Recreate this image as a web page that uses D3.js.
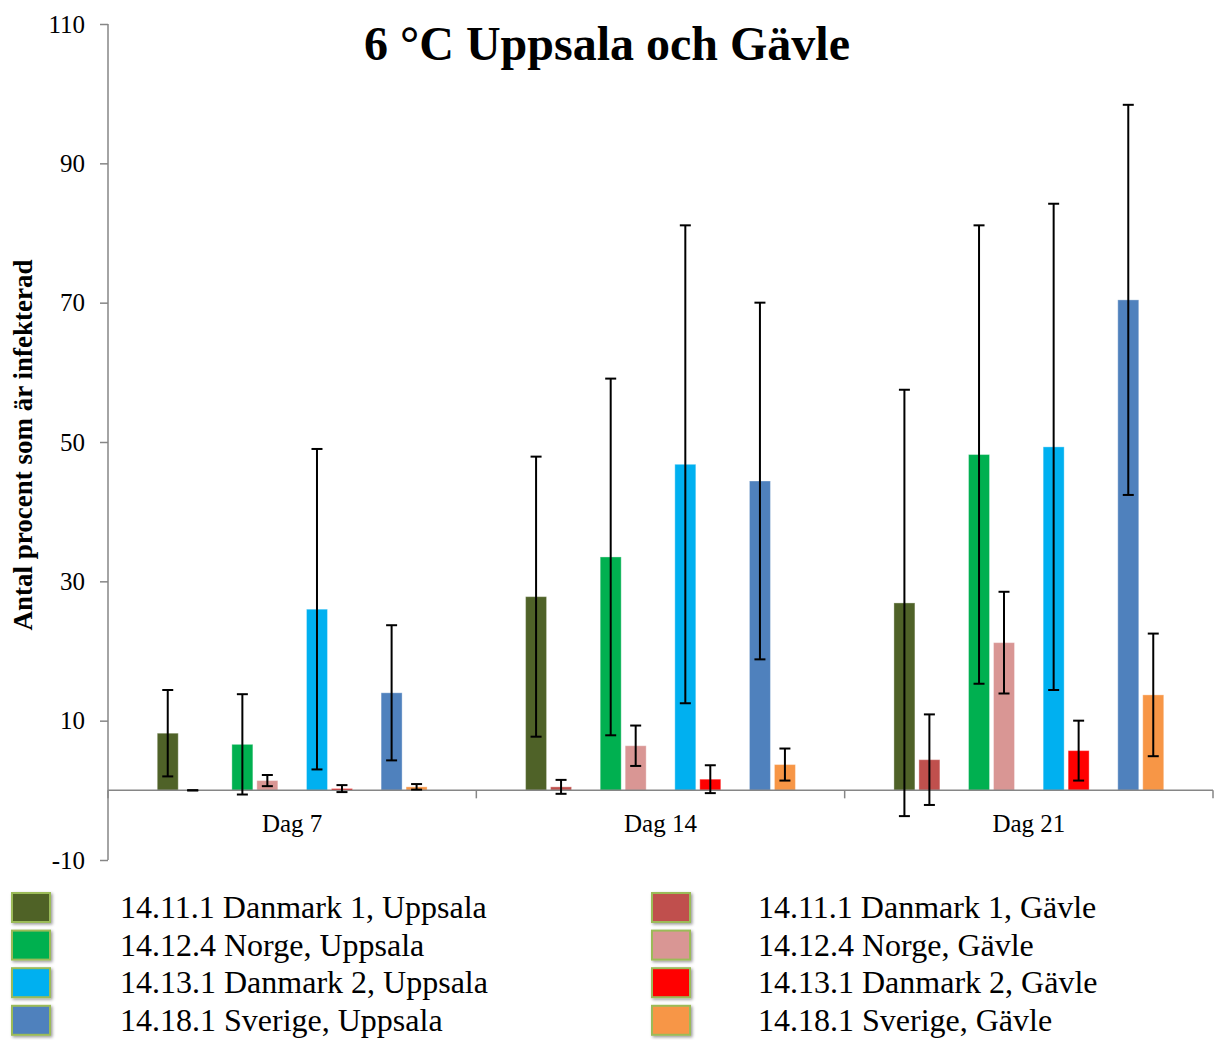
<!DOCTYPE html>
<html lang="sv">
<head>
    <meta charset="utf-8">
    <script src="https://d3js.org/d3.v7.min.js"></script>
    <style>
        html, body {
            margin: 0;
            padding: 0;
            background: white;
            overflow: hidden;
        }

        svg {
            display: block;
            font-family: "Liberation Serif", "DejaVu Serif", serif;
        }

        .axis path, .axis line {
            stroke: #868686;
            stroke-width: 1.5;
        }

        .axis text {
            fill: black;
            font-size: 25px;
            font-family: "Liberation Serif", serif;
        }
    </style>
</head>
<body>
<svg width="1219" height="1040"></svg>
<script>
    // data
    var days = ["Dag 7", "Dag 14", "Dag 21"];
    var isolates = ["14.11.1 Danmark 1", "14.12.4 Norge", "14.13.1 Danmark 2", "14.18.1 Sverige"];
    var sites = ["Uppsala", "Gävle"];

    // one row per isolate, one value per day
    var uppsalaMean = [[8.2, 27.8, 26.9], [6.6, 33.5, 48.2], [26.0, 46.8, 49.3], [14.0, 44.4, 70.4]];
    var uppsalaErr = [[6.2, 20.1, 30.6], [7.2, 25.6, 32.9], [23.0, 34.3, 34.9], [9.7, 25.6, 28.0]];
    var gavleMean = [[0, 0.5, 4.4], [1.4, 6.4, 21.2], [0.25, 1.6, 5.7], [0.5, 3.7, 13.7]];
    var gavleErr = [[0, 1.0, 6.5], [0.8, 2.9, 7.3], [0.5, 2.0, 4.3], [0.4, 2.3, 8.8]];

    var uppsalaColors = ["#4F6228", "#00B050", "#00B0F0", "#4F81BD"];
    var gavleColors = ["#C0504D", "#D99694", "#FF0000", "#F79646"];

    var yTicks = [-10, 10, 30, 50, 70, 90, 110];

    var svg = d3.select("svg");

    var y = d3.scaleLinear().domain([-10, 110]).range([860, 24]);

    var x0 = d3.scaleBand().domain(days).range([108, 1213]);
    var x1 = d3.scaleBand().domain(isolates).range([0, x0.bandwidth()])
        .paddingInner(0.384).paddingOuter(0.66);
    var x2 = d3.scaleBand().domain(sites).range([0, x1.bandwidth()]).paddingInner(0.16);

    // flatten to one record per bar
    var bars = [];
    days.forEach(function (day, di) {
        isolates.forEach(function (iso, ii) {
            bars.push({day: day, iso: iso, site: "Uppsala", v: uppsalaMean[ii][di], e: uppsalaErr[ii][di], c: uppsalaColors[ii]});
            bars.push({day: day, iso: iso, site: "Gävle", v: gavleMean[ii][di], e: gavleErr[ii][di], c: gavleColors[ii]});
        });
    });

    function barX (d) {
        return x0(d.day) + x1(d.iso) + x2(d.site);
    }

    // y axis
    svg.append("g")
        .attr("class", "axis y-axis")
        .attr("transform", "translate(108,0)")
        .call(d3.axisLeft(y).tickValues(yTicks).tickSize(8).tickSizeOuter(0).tickPadding(15)
            .tickFormat(function (d) { return String(d); }))
        .call(function (g) {
            g.select(".domain").attr("d", "M0," + y(110) + "V" + y(-10));
        });

    // bars
    svg.append("g")
        .selectAll("rect")
        .data(bars)
        .join("rect")
        .attr("x", barX)
        .attr("width", x2.bandwidth())
        .attr("y", function (d) { return y(Math.max(0, d.v)); })
        .attr("height", function (d) { return Math.abs(y(d.v) - y(0)); })
        .attr("fill", function (d) { return d.c; })
        .attr("stroke", "white")
        .attr("stroke-opacity", 0.35)
        .attr("stroke-width", 1);

    // x axis line with group boundary ticks
    var xAxis = svg.append("g").attr("class", "axis x-axis");
    xAxis.append("line")
        .attr("x1", x0.range()[0]).attr("x2", x0.range()[1])
        .attr("y1", y(0)).attr("y2", y(0));
    var bounds = days.map(function (d) { return x0(d); }).concat([x0.range()[1]]);
    xAxis.selectAll("line.bound")
        .data(bounds)
        .join("line")
        .attr("class", "bound")
        .attr("x1", function (d) { return d; }).attr("x2", function (d) { return d; })
        .attr("y1", y(0)).attr("y2", y(0) + 8);

    svg.append("g")
        .attr("class", "axis x-labels")
        .attr("transform", "translate(0," + y(0) + ")")
        .call(d3.axisBottom(x0).tickSize(0).tickPadding(24))
        .call(function (g) { g.select(".domain").remove(); });

    // error bars
    var capW = 11;
    var err = svg.append("g")
        .attr("stroke", "black")
        .attr("stroke-width", 2)
        .selectAll("g")
        .data(bars)
        .join("g")
        .attr("transform", function (d) {
            return "translate(" + (barX(d) + x2.bandwidth() / 2) + ",0)";
        });
    err.append("line")
        .attr("y1", function (d) { return y(d.v + d.e); })
        .attr("y2", function (d) { return y(d.v - d.e); });
    err.append("line")
        .attr("x1", -capW / 2).attr("x2", capW / 2)
        .attr("y1", function (d) { return y(d.v + d.e); })
        .attr("y2", function (d) { return y(d.v + d.e); });
    err.append("line")
        .attr("x1", -capW / 2).attr("x2", capW / 2)
        .attr("y1", function (d) { return y(d.v - d.e); })
        .attr("y2", function (d) { return y(d.v - d.e); });

    // title
    svg.append("text")
        .attr("x", 607)
        .attr("y", 60)
        .attr("text-anchor", "middle")
        .attr("font-size", 48)
        .attr("font-weight", "bold")
        .text("6 °C Uppsala och Gävle");

    // y label
    svg.append("text")
        .attr("transform", "translate(32,445) rotate(-90)")
        .attr("text-anchor", "middle")
        .attr("font-size", 27)
        .attr("font-weight", "bold")
        .text("Antal procent som är infekterad");

    // legend
    var defs = svg.append("defs");
    var shadow = defs.append("filter").attr("id", "shadow")
        .attr("x", "-30%").attr("y", "-30%").attr("width", "160%").attr("height", "160%");
    shadow.append("feDropShadow")
        .attr("dx", 1.5).attr("dy", 1.5).attr("stdDeviation", 1.5)
        .attr("flood-color", "#000").attr("flood-opacity", 0.4);

    var legendItems = [];
    isolates.forEach(function (iso, i) {
        legendItems.push({label: iso + ", Uppsala", c: uppsalaColors[i], col: 0, row: i});
        legendItems.push({label: iso + ", Gävle", c: gavleColors[i], col: 1, row: i});
    });

    var legend = svg.append("g")
        .selectAll("g")
        .data(legendItems)
        .join("g")
        .attr("transform", function (d) {
            return "translate(" + (d.col === 0 ? 12 : 652) + "," + (893 + d.row * 37.6) + ")";
        });

    legend.append("rect")
        .attr("width", 38)
        .attr("height", 29)
        .attr("fill", function (d) { return d.c; })
        .attr("stroke", "#9BBB59")
        .attr("stroke-width", 2)
        .attr("filter", "url(#shadow)");

    legend.append("text")
        .attr("x", function (d) { return d.col === 0 ? 108 : 106; })
        .attr("y", 25)
        .attr("font-size", 32)
        .text(function (d) { return d.label; });
</script>
</body>
</html>
